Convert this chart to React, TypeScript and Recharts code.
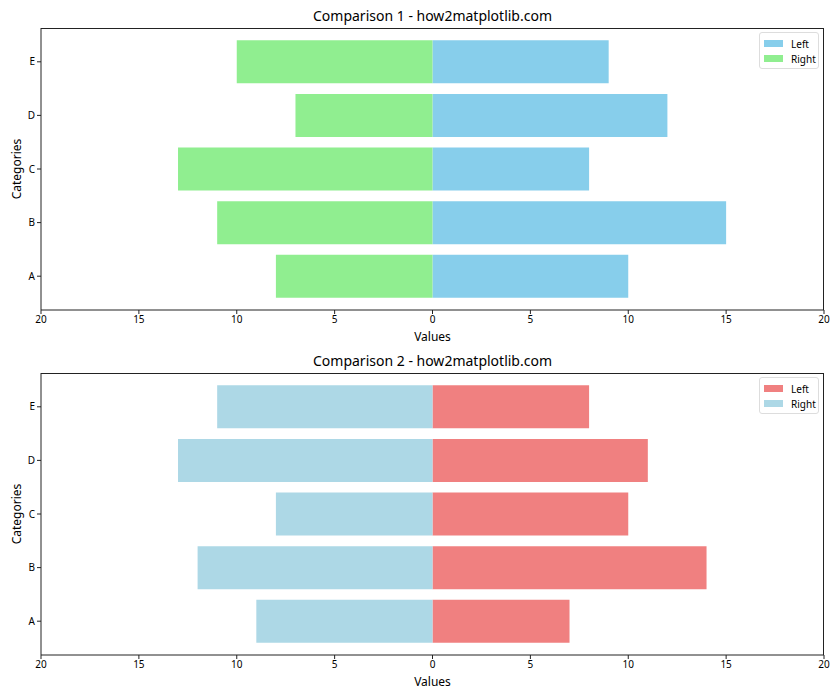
import React from "react";
import { BarChart, Bar, XAxis, YAxis } from "recharts";

const categories = ["A", "B", "C", "D", "E"];

const leftValues1 = [10, 15, 8, 12, 9];
const rightValues1 = [8, 11, 13, 7, 10];
const leftValues2 = [7, 14, 10, 11, 8];
const rightValues2 = [9, 12, 8, 13, 11];

const xTicks = [-20, -15, -10, -5, 0, 5, 10, 15, 20];

const FONT = "'Noto Sans', sans-serif";
const W = 840;
const H = 345;
const M = { top: 28, right: 16, left: 0, bottom: 0 };
const Y_W = 41;
const X_H = 35;

function buildData(left: number[], right: number[]) {
  return categories.map((c, i) => ({ cat: c, left: left[i], right: -right[i] }));
}

interface PanelProps {
  title: string;
  left: number[];
  right: number[];
  leftColor: string;
  rightColor: string;
}

function Panel({ title, left, right, leftColor, rightColor }: PanelProps) {
  const data = buildData(left, right);
  const plotX = M.left + Y_W;
  const plotW = W - plotX - M.right;
  const plotH = H - M.top - X_H;
  const tick = { fill: "#000", fontSize: 10, fontFamily: FONT };

  return (
    <div style={{ position: "relative", width: W, height: H }}>
      <BarChart
        width={W}
        height={H}
        data={data}
        layout="vertical"
        stackOffset="sign"
        barCategoryGap="10%"
        margin={M}
      >
        <XAxis
          type="number"
          domain={[-20, 20]}
          ticks={xTicks}
          tickFormatter={(v) => String(Math.abs(Number(v)))}
          height={X_H}
          tick={tick}
          tickSize={4}
          stroke="#222"
        />
        <YAxis
          type="category"
          dataKey="cat"
          reversed
          width={Y_W}
          tick={tick}
          tickSize={4}
          stroke="#222"
          padding={{ top: 7, bottom: 7 }}
          label={{
            value: "Categories",
            angle: -90,
            position: "insideLeft",
            offset: 17,
            fill: "#000",
            fontSize: 12,
            fontFamily: FONT,
            style: { textAnchor: "middle" },
          }}
        />
        <Bar dataKey="left" stackId="s" fill={leftColor} isAnimationActive={false} />
        <Bar dataKey="right" stackId="s" fill={rightColor} isAnimationActive={false} />
      </BarChart>
      <div
        style={{
          position: "absolute",
          left: plotX,
          top: M.top,
          width: plotW,
          height: plotH,
          borderTop: "1px solid #222",
          borderRight: "1px solid #222",
          boxSizing: "border-box",
          pointerEvents: "none",
        }}
      />
      <div
        style={{
          position: "absolute",
          left: plotX,
          width: plotW,
          top: M.top - 22,
          textAlign: "center",
          fontFamily: FONT,
          fontSize: 14,
          color: "#000",
        }}
      >
        {title}
      </div>
      <div
        style={{
          position: "absolute",
          left: plotX,
          width: plotW,
          top: M.top + plotH + 19,
          lineHeight: "16px",
          textAlign: "center",
          fontFamily: FONT,
          fontSize: 12,
          color: "#000",
        }}
      >
        Values
      </div>
      <div
        style={{
          position: "absolute",
          left: 759,
          top: M.top + 4,
          width: 60,
          height: 37,
          border: "1px solid #ddd",
          borderRadius: 3,
          boxSizing: "border-box",
          background: "rgba(255,255,255,0.8)",
          fontFamily: FONT,
          fontSize: 10,
          padding: "3px 0 0 4px",
        }}
      >
        {[
          { name: "Left", color: leftColor },
          { name: "Right", color: rightColor },
        ].map((item) => (
          <div key={item.name} style={{ display: "flex", alignItems: "center", height: 15 }}>
            <span style={{ display: "inline-block", width: 19, height: 7, background: item.color, marginRight: 8 }} />
            <span>{item.name}</span>
          </div>
        ))}
      </div>
    </div>
  );
}

export default function App() {
  return (
    <div style={{ position: "absolute", left: 0, top: 0, width: 840, height: 700, background: "#fff" }}>
      <Panel
        title="Comparison 1 - how2matplotlib.com"
        left={leftValues1}
        right={rightValues1}
        leftColor="#87CEEB"
        rightColor="#90EE90"
      />
      <Panel
        title="Comparison 2 - how2matplotlib.com"
        left={leftValues2}
        right={rightValues2}
        leftColor="#F08080"
        rightColor="#ADD8E6"
      />
    </div>
  );
}
